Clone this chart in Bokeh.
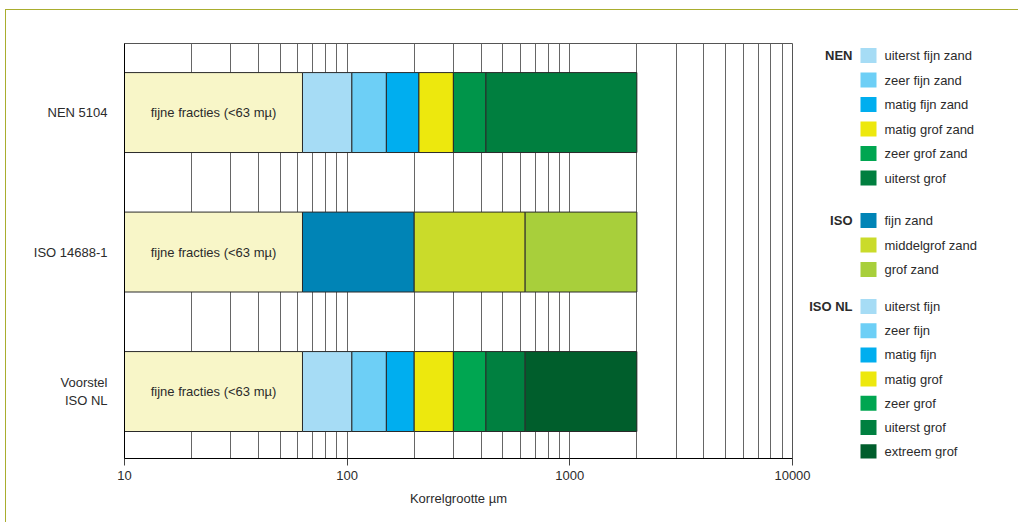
import math
from bokeh.plotting import figure
from bokeh.models import Range1d, FixedTicker, PrintfTickFormatter
from bokeh.layouts import row
from bokeh.embed import file_html
from bokeh.resources import INLINE
from bokeh.core.properties import value

# ---------------- data ----------------
categories = ["NEN 5104", "ISO 14688-1", "Voorstel\nISO NL"]
cat_pos = [2, 1, 0]

nen_bounds = [10, 63, 105, 150, 210, 300, 420, 2000]
nen_colors = ["#f8f6c8", "#a6dcf5", "#6dcff6", "#00aeef", "#ede80d", "#00954a", "#007f3f"]

iso_bounds = [10, 63, 200, 630, 2000]
iso_colors = ["#f8f6c8", "#0084b6", "#cadb2a", "#a8cf3b"]

isonl_bounds = [10, 63, 105, 150, 200, 300, 420, 630, 2000]
isonl_colors = ["#f8f6c8", "#a6dcf5", "#6dcff6", "#00aeef", "#ede80d", "#00a651", "#008040", "#005e2c"]

fine_label = "fijne fracties (<63 mµ)"
fine_limit = 63

x_ticks = [10, 100, 1000, 10000]
x_tick_labels = ["10", "100", "1000", "10000"]
x_title = "Korrelgrootte µm"

legend_groups = ["NEN", "ISO", "ISO NL"]
legend_nen_labels = ["uiterst fijn zand", "zeer fijn zand", "matig fijn zand", "matig grof zand",
                     "zeer grof zand", "uiterst grof"]
legend_nen_colors = ["#a6dcf5", "#6dcff6", "#00aeef", "#ede80d", "#00a651", "#007f3f"]
legend_iso_labels = ["fijn zand", "middelgrof zand", "grof zand"]
legend_iso_colors = ["#0084b6", "#cadb2a", "#a8cf3b"]
legend_isonl_labels = ["uiterst fijn", "zeer fijn", "matig fijn", "matig grof", "zeer grof",
                       "uiterst grof", "extreem grof"]
legend_isonl_colors = ["#a6dcf5", "#6dcff6", "#00aeef", "#ede80d", "#00a651", "#008040", "#005e2c"]

FONT = "Liberation Sans"
TXT = "#2b2b2b"

# ---------------- main chart ----------------
B_TOP, B_BOT, H = 33, 64, 512
p = figure(width=806, height=H, x_axis_type="log",
           x_range=Range1d(10, 10000), y_range=Range1d(-0.48, 2.495),
           output_backend="svg", toolbar_location=None,
           min_border_left=118, min_border_right=20, min_border_top=B_TOP, min_border_bottom=B_BOT)

grid_ticks = [d * 10 ** e for e in range(1, 4) for d in range(1, 10)] + [10000]
p.xgrid.ticker = FixedTicker(ticks=grid_ticks)
p.xgrid.grid_line_color = "#666666"
p.xgrid.grid_line_width = 1
p.ygrid.visible = False
p.outline_line_color = "#555555"
p.background_fill_color = "white"

xa = p.xaxis[0]
xa.ticker = FixedTicker(ticks=x_ticks, minor_ticks=[])
xa.formatter = PrintfTickFormatter(format="%d")
xa.major_label_overrides = {t: l for t, l in zip(x_ticks, x_tick_labels)}
xa.axis_line_color = "black"
xa.major_tick_line_color = "#444444"
xa.major_tick_out = 7
xa.major_tick_in = 0
xa.minor_tick_line_color = None
xa.major_label_standoff = 5
xa.major_label_text_font = FONT
xa.major_label_text_font_size = "13px"
xa.major_label_text_color = TXT
xa.axis_label = x_title
xa.axis_label_text_font = FONT
xa.axis_label_text_font_size = "13px"
xa.axis_label_text_font_style = "normal"
xa.axis_label_text_color = TXT
xa.axis_label_standoff = 8

ya = p.yaxis[0]
ya.ticker = FixedTicker(ticks=cat_pos, minor_ticks=[])
ya.major_label_overrides = {pos: c for pos, c in zip(cat_pos, categories)}
ya.axis_line_color = "black"
ya.major_tick_line_color = None
ya.minor_tick_line_color = None
ya.major_label_standoff = 11
ya.major_label_text_font = FONT
ya.major_label_text_font_size = "13px"
ya.major_label_text_color = TXT
ya.major_label_text_align = "right"

bar_h = 0.573
for pos, bounds, colors in zip(cat_pos, [nen_bounds, iso_bounds, isonl_bounds],
                               [nen_colors, iso_colors, isonl_colors]):
    n = len(colors)
    p.hbar(y=[pos] * n, left=bounds[:-1], right=bounds[1:], height=bar_h,
           fill_color=colors, line_color="#2a2a2a", line_width=1)

p.text(x=[math.sqrt(x_ticks[0] * fine_limit)] * 3, y=cat_pos, text=[fine_label] * 3,
       text_align="center", text_baseline="middle", text_font=value(FONT),
       text_font_size="13px", text_color=TXT)

# ---------------- legend panel (transparent, overlaps main border) ----------------
# its frame is aligned with the main frame, so the y range maps 1:1 to canvas pixels
lg = figure(width=226, height=H, x_range=Range1d(0, 226), y_range=Range1d(H - B_BOT, B_TOP),
            output_backend="svg", toolbar_location=None,
            x_axis_location=None, y_axis_location=None,
            min_border_left=0, min_border_right=0, min_border_top=B_TOP, min_border_bottom=B_BOT,
            styles={"margin-left": "-20px"})
lg.grid.visible = False
lg.outline_line_color = None
lg.background_fill_color = None
lg.border_fill_color = None

group_start = [45, 210, 296]
group_step = [24.5, 24.5, 24.2]
for gname, labels, colors, y0, step in zip(legend_groups,
                                           [legend_nen_labels, legend_iso_labels, legend_isonl_labels],
                                           [legend_nen_colors, legend_iso_colors, legend_isonl_colors],
                                           group_start, group_step):
    ys = [y0 + i * step for i in range(len(labels))]
    lg.rect(x=[76] * len(ys), y=ys, width=16, height=15, fill_color=colors, line_color=None)
    lg.text(x=[92] * len(ys), y=ys, text=labels, text_align="left", text_baseline="middle",
            text_font=value(FONT), text_font_size="13px", text_color=TXT)
    lg.text(x=[60], y=[y0], text=[gname], text_align="right", text_baseline="middle",
            text_font=value(FONT), text_font_size="13px", text_font_style="bold", text_color=TXT)

layout = row(p, lg, styles={"margin-left": "5px", "margin-top": "9px",
                            "border-top": "1px solid #a9ad2e", "border-left": "1px solid #a9ad2e"})

open("out.html", "w").write(file_html(layout, INLINE))
